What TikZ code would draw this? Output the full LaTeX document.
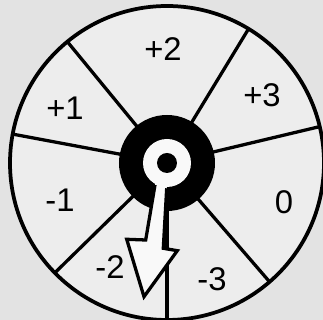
\documentclass[tikz,border=0pt]{standalone}
\usepackage{fontspec}
\setsansfont{Liberation Sans}
\usetikzlibrary{positioning}

\begin{document}
\begin{tikzpicture}[x=0.3mm, y=0.3mm,
  rim/.style={line width=3.2pt},
  spoke/.style={line width=2.8pt},
  num/.style={font=\sffamily\fontsize{28}{32}\selectfont},
]

% paper and frame
\useasboundingbox (0,0) rectangle (323,320);
\clip (0,0) rectangle (323,320);
\fill[gray!22] (0,0) rectangle (323,320);

% wheel
\coordinate (hub) at (167,157);
\fill[gray!14] (hub) circle (157);
\foreach \a in {129.4,58.7,13.4,-49.2,-90,-135.6,169.4}
  \draw[spoke] (hub) -- ++(\a:157);
\draw[rim] (hub) circle (157);

% hub ring
\fill[black] (hub) circle (48);
\fill[white!95!gray] (hub) circle (24);

% pointer
\fill[white!95!gray] (156,150) -- (155,135) -- (145.7,80) -- (126.7,80.7) -- (144,23.3)
  -- (177.3,69.3) -- (163.3,71.7) -- (166.7,131.7) -- (168,150) -- cycle;
\draw[spoke, line join=miter] (155,135) -- (145.7,80) -- (126.7,80.7) -- (144,23.3)
  -- (177.3,69.3) -- (163.3,71.7) -- (166.7,131.7);
\fill[black] (hub) circle (10);

% numbers
\node[num] (p2) at (163,271) {+2};
\node[num] (p3) at (262,225) {+3};
\node[num] (p1) at (65,212) {+1};
\node[num] (m1) at (60,120) {-1};
\node[num] (z0) at (284,118) {0};
\node[num] (m2) at (110,53) {-2};
\node[num] (m3) at (212,41) {-3};

\end{tikzpicture}
\end{document}
